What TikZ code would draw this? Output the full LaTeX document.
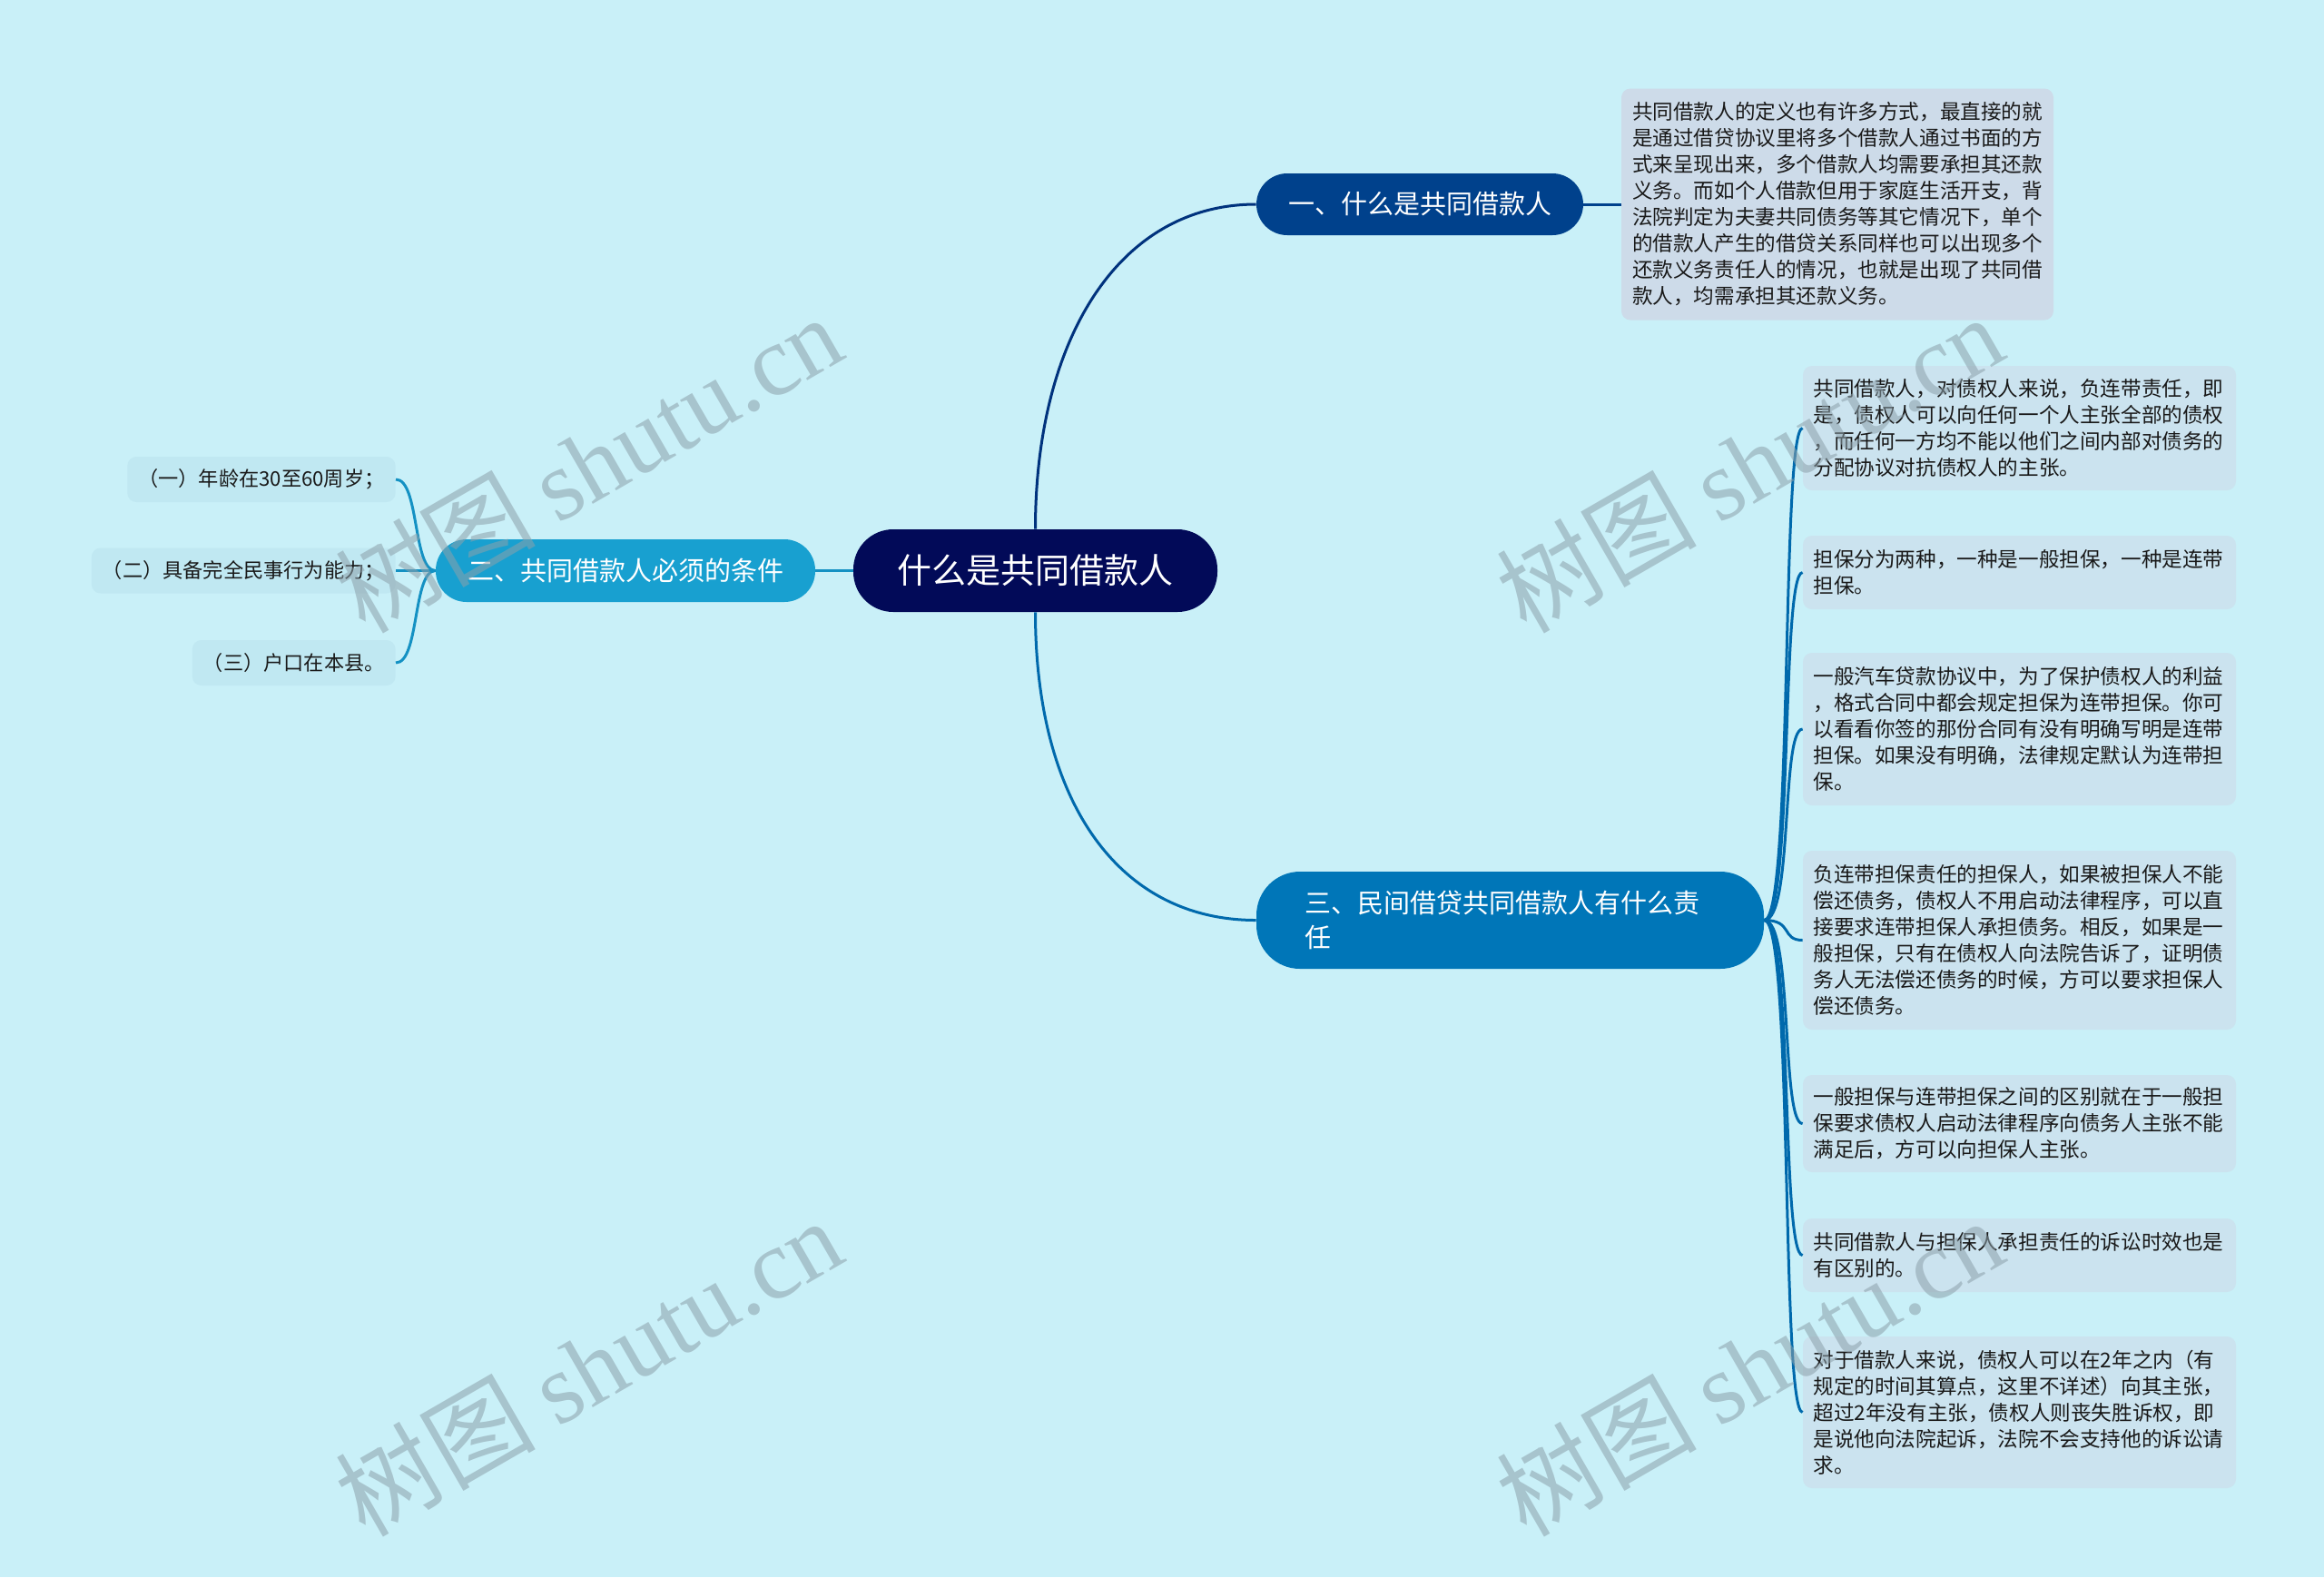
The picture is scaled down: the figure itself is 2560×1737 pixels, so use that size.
\documentclass[tikz,border=0pt]{standalone}
\usepackage{fontspec}
\setmainfont{Noto Sans CJK SC}
\newfontfamily\wmserif{Liberation Serif}
\definecolor{bgc}{RGB}{201,240,248}
\definecolor{rootc}{RGB}{2,10,88}
\definecolor{bonec}{RGB}{0,65,140}
\definecolor{btwoc}{RGB}{24,160,208}
\definecolor{bthreec}{RGB}{0,118,184}
\definecolor{leafa}{RGB}{205,219,233}
\definecolor{leafb}{RGB}{203,227,239}
\definecolor{leafl}{RGB}{192,232,242}
\definecolor{leaftxt}{RGB}{25,25,25}
\definecolor{lnone}{RGB}{0,50,125}
\definecolor{lntwo}{RGB}{20,145,195}
\definecolor{lnthree}{RGB}{0,105,172}
\definecolor{wmc}{RGB}{140,160,170}
\begin{document}
\begin{tikzpicture}[x=0.5pt,y=-0.5pt,
  rootbox/.style={fill=rootc,text=white,rounded corners=22pt,minimum width=200.5pt,minimum height=45.5pt,inner sep=0pt,font=\fontsize{19}{23}\selectfont},
  branchbox/.style={text=white,rounded corners=17pt,inner sep=0pt,font=\fontsize{14.5}{19}\selectfont},
  leafbox/.style={fill=leafb,text=leaftxt,rounded corners=5pt,align=left,text width=227pt,minimum width=238.5pt,inner xsep=5.75pt,inner ysep=0pt,font=\fontsize{11.3}{14.5}\selectfont},
  lleaf/.style={fill=leafl,text=leaftxt,rounded corners=5pt,anchor=east,inner xsep=6pt,inner ysep=0pt,minimum height=25pt,font=\fontsize{11.1}{14}\selectfont},
  conn/.style={line width=1.5pt},
  wm/.style={text=wmc,text opacity=0.55,rotate=30,font=\fontsize{55}{60}\selectfont,inner sep=0pt}
]
\useasboundingbox (0,0) rectangle (2560,1737);
\fill[bgc] (0,0) rectangle (2560,1737);

% nodes
\node[rootbox] (root) at (1140.5,628.5) {什么是共同借款人};
\node[branchbox,fill=bonec,minimum width=180pt,minimum height=34pt] (b1) at (1564,225) {一、什么是共同借款人};
\node[branchbox,fill=btwoc,minimum width=209pt,minimum height=34.5pt] (b2) at (689,628.5) {二、共同借款人必须的条件};
\node[branchbox,fill=bthreec,rounded corners=24pt,minimum width=279.5pt,minimum height=53.5pt,text width=226pt,align=left] (b3) at (1663.5,1013.5) {三、民间借贷共同借款人有什么责\\任};

\node[leafbox,fill=leafa,text width=226pt,minimum width=238pt,minimum height=127.5pt] (l0) at (2024,225) {共同借款人的定义也有许多方式，最直接的就\\是通过借贷协议里将多个借款人通过书面的方\\式来呈现出来，多个借款人均需要承担其还款\\义务。而如个人借款但用于家庭生活开支，背\\法院判定为夫妻共同债务等其它情况下，单个\\的借款人产生的借贷关系同样也可以出现多个\\还款义务责任人的情况，也就是出现了共同借\\款人，均需承担其还款义务。};

\node[leafbox,minimum height=68.5pt] (r1) at (2224.5,471.5) {共同借款人，对债权人来说，负连带责任，即\\是，债权人可以向任何一个人主张全部的债权\\，而任何一方均不能以他们之间内部对债务的\\分配协议对抗债权人的主张。};
\node[leafbox,minimum height=40.5pt] (r2) at (2224.5,630.5) {担保分为两种，一种是一般担保，一种是连带\\担保。};
\node[leafbox,minimum height=84pt] (r3) at (2224.5,803) {一般汽车贷款协议中，为了保护债权人的利益\\，格式合同中都会规定担保为连带担保。你可\\以看看你签的那份合同有没有明确写明是连带\\担保。如果没有明确，法律规定默认为连带担\\保。};
\node[leafbox,minimum height=98.5pt] (r4) at (2224.5,1035.5) {负连带担保责任的担保人，如果被担保人不能\\偿还债务，债权人不用启动法律程序，可以直\\接要求连带担保人承担债务。相反，如果是一\\般担保，只有在债权人向法院告诉了，证明债\\务人无法偿还债务的时候，方可以要求担保人\\偿还债务。};
\node[leafbox,minimum height=53.5pt] (r5) at (2224.5,1237.5) {一般担保与连带担保之间的区别就在于一般担\\保要求债权人启动法律程序向债务人主张不能\\满足后，方可以向担保人主张。};
\node[leafbox,minimum height=40.5pt] (r6) at (2224.5,1382.5) {共同借款人与担保人承担责任的诉讼时效也是\\有区别的。};
\node[leafbox,minimum height=83.5pt] (r7) at (2224.5,1555.5) {对于借款人来说，债权人可以在2年之内（有\\规定的时间其算点，这里不详述）向其主张，\\超过2年没有主张，债权人则丧失胜诉权，即\\是说他向法院起诉，法院不会支持他的诉讼请\\求。};

\node[lleaf] (la) at (436,528) {（一）年龄在30至60周岁；};
\node[lleaf] (lb) at (436,628.5) {（二）具备完全民事行为能力；};
\node[lleaf] (lc) at (436,730) {（三）户口在本县。};

% connectors
\draw[conn,lnone] (root.north) .. controls (1140.5,377) and (1230,225) .. (b1.west);
\draw[conn,lnthree] (root.south) .. controls (1140.5,880) and (1230,1013.5) .. (b3.west);
\draw[conn,lntwo] (root.west) -- (b2.east);
\draw[conn,bonec] (b1.east) -- (l0.west);
\foreach \n in {r1,r2,r3,r4,r5,r6,r7}{
  \draw[conn,lnthree] (b3.east) .. controls +(32,0) and +(-24,0) .. (\n.west);
}
\foreach \n in {la,lb,lc}{
  \draw[conn,lntwo] (b2.west) .. controls +(-25,0) and +(26,0) .. (\n.east);
}

% watermarks
\node[wm] (w1) at (648,510) {树图 {\wmserif shutu.cn}};
\node[wm] (w2) at (1927,510) {树图 {\wmserif shutu.cn}};
\node[wm] (w3) at (648,1505) {树图 {\wmserif shutu.cn}};
\node[wm] (w4) at (1927,1505) {树图 {\wmserif shutu.cn}};
\end{tikzpicture}
\end{document}
